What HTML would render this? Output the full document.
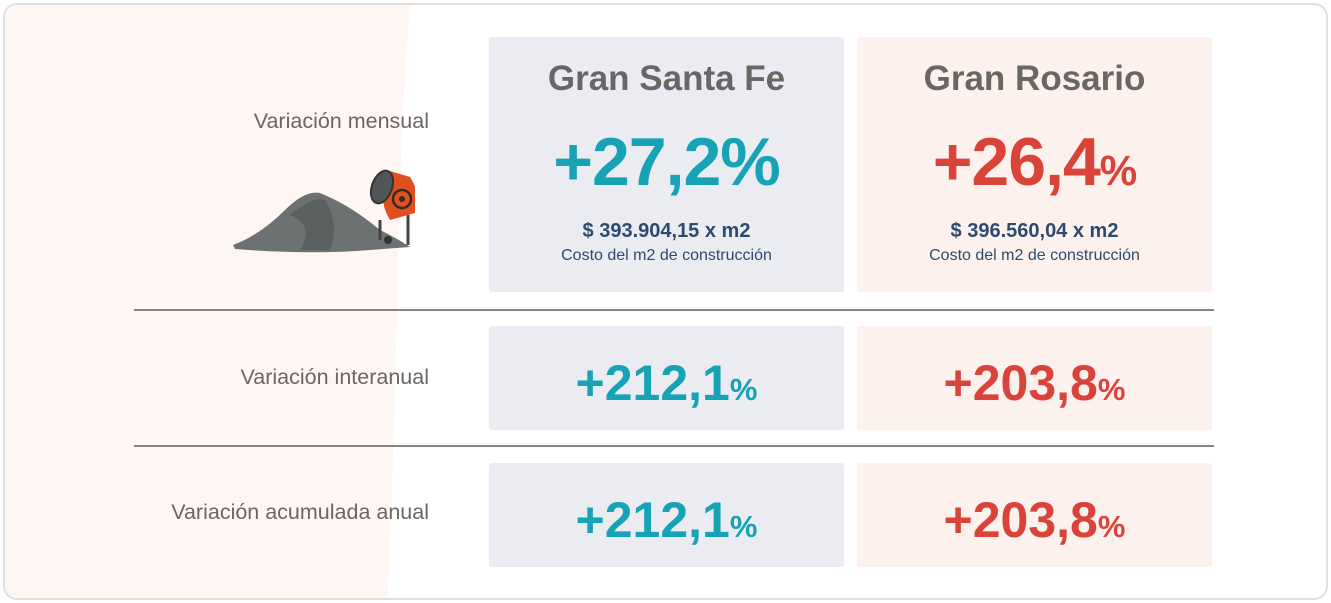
<!DOCTYPE html>
<html><head><meta charset="utf-8"><style>
body{margin:0;width:1331px;height:603px;background:#fff;font-family:"Liberation Sans",sans-serif;overflow:hidden;position:relative}
.card{position:absolute;left:3px;top:3px;width:1321px;height:593px;border:2px solid #e4dfdf;border-radius:14px;overflow:hidden;background:#fff}
.box{position:absolute;border-radius:3px;text-align:center}
.sf{background:#ebebf2;left:489px;width:355px}
.ro{background:#fcf1ec;left:857px;width:355px}
.t{position:absolute;left:0;right:0;font-weight:bold;color:#6a6666;font-size:35px}
.big{position:absolute;left:0;right:0;font-weight:bold;font-size:68px;letter-spacing:-1px}
.mid{position:absolute;left:0;right:0;font-weight:bold;font-size:50px;top:28px}
.teal{color:#16a3b6}.red{color:#da433a}
.p{font-size:0.62em}
.pr{position:absolute;left:0;right:0;top:183px;font-weight:bold;color:#2d4b70;font-size:20px}
.cs{position:absolute;left:0;right:0;top:210px;color:#2d4b70;font-size:16px}
.lab{position:absolute;right:902px;color:#6a6666;font-size:21.5px;white-space:nowrap}
.line{position:absolute;left:134px;width:1080px;height:2px;background:#8a8585}
</style></head><body>
<div class="card">
<svg style="position:absolute;left:0;top:0" width="420" height="600"><path d="M0 0 H405 Q395 120 392 300 Q388 480 382 600 H0 Z" fill="#fdf6f3"/></svg>
</div>
<svg style="position:absolute;left:230px;top:165px" width="185" height="90">
<path d="M3 80 Q30 70 55 45 Q75 25 90 28 Q120 40 150 65 Q170 75 180 82 L140 85 Q80 90 5 84 Z" fill="#6c7272"/>
<path d="M60 50 Q85 30 95 35 Q110 60 100 85 L70 85 Q85 60 60 50Z" fill="#5a6060"/>
<line x1="150" y1="55" x2="150" y2="75" stroke="#444" stroke-width="3"/>
<line x1="178" y1="50" x2="178" y2="80" stroke="#444" stroke-width="3"/>
<circle cx="158" cy="75" r="4" fill="#333"/>
<path d="M160 6 L180 12 Q192 30 185 48 L160 55 Q145 30 160 6Z" fill="#e0501e"/>
<ellipse cx="152" cy="22" rx="10" ry="17" transform="rotate(20 152 22)" fill="#505656" stroke="#333" stroke-width="2"/>
<circle cx="172" cy="34" r="9" fill="none" stroke="#3a2a20" stroke-width="2.5"/>
<circle cx="172" cy="34" r="3" fill="#3a2a20"/>
</svg>
<div class="lab" style="top:109px">Variación mensual</div>
<div class="lab" style="top:365px">Variación interanual</div>
<div class="lab" style="top:500px">Variación acumulada anual</div>
<div class="line" style="top:309px"></div>
<div class="line" style="top:445px"></div>

<div class="box sf" style="top:37px;height:255px">
<div class="t" style="top:22px">Gran Santa Fe</div>
<div class="big teal" style="top:86px">+27,2%</div>
<div class="pr">$ 393.904,15 x m2</div>
<div class="cs">Costo del m2 de construcción</div>
</div>
<div class="box ro" style="top:37px;height:255px">
<div class="t" style="top:22px">Gran Rosario</div>
<div class="big red" style="top:86px">+26,4<span class="p">%</span></div>
<div class="pr">$ 396.560,04 x m2</div>
<div class="cs">Costo del m2 de construcción</div>
</div>
<div class="box sf" style="top:326px;height:104px"><div class="mid teal">+212,1<span class="p">%</span></div></div>
<div class="box ro" style="top:326px;height:104px"><div class="mid red">+203,8<span class="p">%</span></div></div>
<div class="box sf" style="top:463px;height:104px"><div class="mid teal">+212,1<span class="p">%</span></div></div>
<div class="box ro" style="top:463px;height:104px"><div class="mid red">+203,8<span class="p">%</span></div></div>
</body></html>
